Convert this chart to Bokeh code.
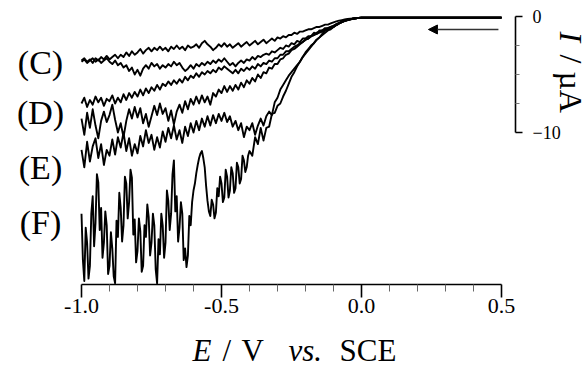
import math
from bokeh.plotting import figure
from bokeh.models import (Range1d, LinearAxis, FixedTicker, Label, Arrow,
                          NormalHead, NumeralTickFormatter)
from bokeh.embed import file_html
from bokeh.resources import INLINE

# ---- potential sweep (V vs. SCE) ----
E_SCAN = [
    -1.00, -0.99, -0.98, -0.97, -0.96, -0.95, -0.94, -0.93, -0.92, -0.91,
    -0.90, -0.89, -0.88, -0.87, -0.86, -0.85, -0.84, -0.83, -0.82, -0.81,
    -0.80, -0.79, -0.78, -0.77, -0.76, -0.75, -0.74, -0.73, -0.72, -0.71,
    -0.70, -0.69, -0.68, -0.67, -0.66, -0.65, -0.64, -0.63, -0.62, -0.61,
    -0.60, -0.59, -0.58, -0.57, -0.56, -0.55, -0.54, -0.53, -0.52, -0.51,
    -0.50, -0.49, -0.48, -0.47, -0.46, -0.45, -0.44, -0.43, -0.42, -0.41,
    -0.40, -0.39, -0.38, -0.37, -0.36, -0.35, -0.34, -0.33, -0.32, -0.31,
    -0.30, -0.29, -0.28, -0.27, -0.26, -0.25, -0.24, -0.23, -0.22, -0.21,
    -0.20, -0.19, -0.18, -0.17, -0.16, -0.15, -0.14, -0.13, -0.12, -0.11,
    -0.10,
]
E_TAIL = [-0.09, -0.08, -0.07, -0.06, -0.05, -0.04, -0.03, -0.02, -0.01,
          0.00, 0.10, 0.20, 0.30, 0.40, 0.50]
# the noisiest scan was sampled twice as densely up to -0.405 V
E_FINE = [
    -1.000, -0.995, -0.990, -0.985, -0.980, -0.975, -0.970, -0.965, -0.960, -0.955,
    -0.950, -0.945, -0.940, -0.935, -0.930, -0.925, -0.920, -0.915, -0.910, -0.905,
    -0.900, -0.895, -0.890, -0.885, -0.880, -0.875, -0.870, -0.865, -0.860, -0.855,
    -0.850, -0.845, -0.840, -0.835, -0.830, -0.825, -0.820, -0.815, -0.810, -0.805,
    -0.800, -0.795, -0.790, -0.785, -0.780, -0.775, -0.770, -0.765, -0.760, -0.755,
    -0.750, -0.745, -0.740, -0.735, -0.730, -0.725, -0.720, -0.715, -0.710, -0.705,
    -0.700, -0.695, -0.690, -0.685, -0.680, -0.675, -0.670, -0.665, -0.660, -0.655,
    -0.650, -0.645, -0.640, -0.635, -0.630, -0.625, -0.620, -0.615, -0.610, -0.605,
    -0.600, -0.595, -0.590, -0.585, -0.580, -0.575, -0.570, -0.565, -0.560, -0.555,
    -0.550, -0.545, -0.540, -0.535, -0.530, -0.525, -0.520, -0.515, -0.510, -0.505,
    -0.500, -0.495, -0.490, -0.485, -0.480, -0.475, -0.470, -0.465, -0.460, -0.455,
    -0.450, -0.445, -0.440, -0.435, -0.430, -0.425, -0.420, -0.415, -0.410, -0.405,
]

# ---- currents (uA), one list per scan, upper traces first ----
I_1 = [
    -3.8, -3.6, -3.9, -3.7, -4.0, -3.6, -3.8, -3.5, -3.7, -3.4,
    -3.7, -3.5, -3.3, -3.6, -3.3, -3.5, -3.1, -3.4, -3.0, -3.3,
    -3.1, -2.8, -3.2, -2.9, -2.7, -3.0, -2.7, -2.9, -2.6, -2.9,
    -2.7, -3.0, -2.6, -2.8, -2.5, -2.8, -2.6, -2.9, -2.5, -2.7,
    -2.6, -2.4, -2.7, -2.3, -2.1, -2.4, -2.6, -2.9, -2.7, -2.4,
    -2.6, -2.3, -2.6, -2.4, -2.7, -2.5, -2.3, -2.6, -2.4, -2.2,
    -2.5, -2.3, -2.1, -2.4, -2.2, -2.0, -2.3, -2.1, -1.9, -2.1,
    -1.8, -1.9, -1.7, -1.8, -1.6, -1.6, -1.4, -1.5, -1.3, -1.3,
    -1.2, -1.1, -1.1, -1.0, -0.9, -0.9, -0.8, -0.7, -0.7, -0.6,
    -0.5,
]
I_1_TAIL = [-0.42, -0.36, -0.31, -0.26, -0.22, -0.19, -0.16, -0.14, -0.12,
            -0.10, -0.10, -0.10, -0.10, -0.10, -0.10]

I_2 = [
    -3.9, -3.7, -4.0, -3.8, -3.6, -3.9, -3.7, -4.0, -3.8, -3.6,
    -3.9, -4.1, -3.8, -4.2, -4.0, -4.4, -4.2, -4.7, -4.4, -5.0,
    -4.6, -5.1, -4.5, -4.2, -4.5, -4.0, -4.3, -4.1, -4.5, -4.2,
    -4.4, -4.1, -4.3, -3.9, -4.2, -4.0, -4.4, -4.7, -4.5, -4.2,
    -4.5, -4.1, -4.3, -4.0, -4.2, -3.9, -4.1, -3.8, -4.0, -3.7,
    -3.9, -3.6, -3.9, -4.2, -4.0, -4.3, -4.0, -3.8, -4.0, -3.7,
    -3.8, -3.5, -3.7, -3.4, -3.5, -3.3, -3.2, -3.3, -3.0, -3.1,
    -2.9, -2.7, -2.8, -2.5, -2.6, -2.3, -2.4, -2.1, -2.2, -1.9,
    -1.9, -1.7, -1.7, -1.4, -1.5, -1.2, -1.2, -1.0, -1.0, -0.9,
    -0.8,
]
I_2_TAIL = [-0.66, -0.54, -0.44, -0.36, -0.29, -0.23, -0.18, -0.15, -0.12,
            -0.10, -0.10, -0.10, -0.10, -0.10, -0.10]

I_3 = [
    -7.5, -7.0, -7.8, -7.2, -7.6, -6.9, -7.4, -7.0, -7.7, -7.1,
    -7.3, -6.8, -7.5, -7.0, -7.4, -6.7, -7.2, -6.6, -7.0, -6.5,
    -6.9, -6.3, -6.8, -6.2, -6.6, -6.1, -6.4, -5.9, -6.3, -5.8,
    -6.0, -5.6, -5.9, -5.5, -5.8, -5.4, -5.7, -5.2, -5.5, -5.1,
    -5.3, -4.9, -5.2, -4.8, -5.0, -4.7, -4.9, -4.6, -4.8, -4.4,
    -4.6, -4.3, -4.5, -4.7, -4.9, -4.6, -4.9, -4.5, -4.7, -4.4,
    -4.6, -4.3, -4.5, -4.1, -4.3, -4.0, -4.1, -3.8, -3.9, -3.6,
    -3.6, -3.3, -3.3, -3.0, -3.0, -2.8, -2.6, -2.5, -2.3, -2.2,
    -2.0, -1.9, -1.7, -1.6, -1.4, -1.3, -1.2, -1.1, -1.0, -0.9,
    -0.8,
]
I_3_TAIL = [-0.68, -0.56, -0.45, -0.37, -0.30, -0.24, -0.19, -0.15, -0.12,
            -0.10, -0.10, -0.10, -0.10, -0.10, -0.10]

I_4 = [
    -8.8, -10.2, -8.3, -9.6, -8.0, -9.4, -10.5, -9.0, -8.2, -9.1,
    -8.5, -7.6, -8.9, -10.0, -9.2, -10.4, -9.0, -8.0, -8.8, -7.8,
    -8.7, -7.9, -9.2, -8.4, -9.5, -8.6, -7.7, -8.5, -7.5, -8.4,
    -7.9, -9.0, -8.1, -9.3, -8.2, -7.6, -8.3, -7.3, -8.0, -7.1,
    -7.6, -6.9, -7.5, -6.8, -7.4, -6.9, -7.6, -6.6, -6.9, -6.3,
    -6.6, -6.0, -6.5, -6.0, -6.4, -5.9, -6.3, -5.7, -6.1, -5.5,
    -5.8, -5.3, -5.6, -5.0, -5.3, -4.8, -4.9, -4.4, -4.5, -4.1,
    -4.1, -3.7, -3.6, -3.3, -3.2, -2.9, -2.8, -2.6, -2.4, -2.2,
    -2.0, -1.9, -1.7, -1.6, -1.5, -1.4, -1.3, -1.2, -1.1, -1.0,
    -0.9,
]
I_4_TAIL = [-0.74, -0.60, -0.48, -0.38, -0.30, -0.24, -0.19, -0.15, -0.12,
            -0.10, -0.10, -0.10, -0.10, -0.10, -0.10]

I_5 = [
    -11.5, -13.0, -10.8, -12.5, -11.2, -10.5, -12.2, -11.0, -12.8, -11.5,
    -12.0, -10.6, -11.9, -10.4, -11.3, -10.0, -11.6, -10.5, -12.0, -11.0,
    -11.8, -10.3, -11.2, -9.8, -10.9, -10.2, -11.5, -10.4, -11.3, -9.9,
    -10.8, -9.6, -10.5, -9.4, -10.6, -9.8, -10.9, -9.5, -10.3, -9.2,
    -10.0, -9.0, -9.8, -8.8, -9.5, -8.6, -9.4, -8.5, -9.2, -8.4,
    -9.0, -8.3, -9.1, -8.6, -9.5, -9.0, -9.8, -9.2, -10.4, -9.5,
    -9.8, -9.2, -10.2, -9.4, -8.8, -9.4, -8.6, -8.2, -8.5, -7.4,
    -7.0, -6.3, -5.9, -5.5, -5.1, -4.8, -4.5, -4.2, -3.9, -3.5,
    -3.2, -2.9, -2.6, -2.3, -2.0, -1.8, -1.6, -1.4, -1.2, -1.1,
    -0.9,
]
I_5_TAIL = [-0.74, -0.60, -0.48, -0.38, -0.30, -0.24, -0.19, -0.15, -0.12,
            -0.10, -0.10, -0.10, -0.10, -0.10, -0.10]

I_6_FINE = [
    -17.0, -21.0, -22.8, -18.2, -19.5, -22.6, -21.5, -17.0, -15.5, -19.8,
    -17.8, -13.6, -14.3, -18.4, -16.5, -20.8, -19.5, -16.8, -18.0, -22.2,
    -21.5, -18.6, -20.0, -22.4, -23.0, -17.6, -19.0, -15.2, -16.5, -19.4,
    -18.0, -13.8, -14.4, -17.4, -16.0, -13.2, -13.9, -18.8, -17.5, -21.2,
    -20.2, -17.4, -18.5, -22.0, -21.5, -18.0, -19.0, -16.2, -17.3, -20.6,
    -19.5, -17.0, -18.0, -21.8, -23.0, -19.2, -20.5, -17.0, -18.0, -20.8,
    -19.5, -15.0, -15.9, -18.4, -17.0, -13.6, -12.4, -16.8, -15.5, -19.4,
    -18.2, -16.0, -17.0, -21.0, -20.0, -21.6, -20.6, -17.2, -18.0, -16.0,
    -15.0, -14.4, -13.5, -12.8, -12.2, -11.8, -11.6, -12.2, -13.0, -14.6,
    -15.9, -16.8, -17.2, -15.8, -16.2, -17.4, -16.9, -14.8, -15.5, -13.8,
    -14.4, -16.0, -15.6, -13.2, -13.8, -15.6, -15.0, -13.0, -13.5, -15.2,
    -14.8, -12.6, -13.0, -14.4, -14.0, -12.0, -12.4, -13.4, -13.0, -12.0,
]
I_6 = [
    -11.6, -12.0, -10.4, -11.0, -9.6, -10.7, -9.6, -9.5, -8.4, -8.3,
    -7.7, -7.5, -6.9, -6.4, -5.8, -5.2, -4.8, -4.3, -3.9, -3.5,
    -3.1, -2.8, -2.5, -2.3, -2.0, -1.8, -1.5, -1.2, -1.1, -1.0,
    -0.9,
]
I_6_TAIL = [-0.74, -0.60, -0.48, -0.38, -0.30, -0.24, -0.19, -0.15, -0.12,
            -0.10, -0.10, -0.10, -0.10, -0.10, -0.10]

CURVE_LABELS = ["(C)", "(D)", "(E)", "(F)"]
X_TICKS = [-1.0, -0.5, 0.0, 0.5]
X_MINOR = [-0.9, -0.8, -0.7, -0.6, -0.4, -0.3, -0.2, -0.1, 0.1, 0.2, 0.3, 0.4]
SCALE_TICKS = [-10, 0]
SCALE_MINOR = [-7.5, -5.0, -2.5]

E_COARSE_FROM_040 = E_SCAN[E_SCAN.index(-0.40):]
SCANS = [
    (E_SCAN + E_TAIL, I_1 + I_1_TAIL),
    (E_SCAN + E_TAIL, I_2 + I_2_TAIL),
    (E_SCAN + E_TAIL, I_3 + I_3_TAIL),
    (E_SCAN + E_TAIL, I_4 + I_4_TAIL),
    (E_SCAN + E_TAIL, I_5 + I_5_TAIL),
    (E_FINE + E_COARSE_FROM_040 + E_TAIL, I_6_FINE + I_6 + I_6_TAIL),
]
for xs, ys in SCANS:
    assert len(xs) == len(ys), (len(xs), len(ys))

SERIF = "Liberation Serif"
W, H = 587, 369

# the frame spans the whole canvas (280 px per V, 11.6 px per uA);
# both axes sit at fixed data locations inside it
p = figure(width=W, height=H, output_backend="svg", toolbar_location=None,
           x_range=Range1d(-1.2893, 0.8071), y_range=Range1d(-30.431, 1.379),
           x_axis_location=None, y_axis_location=None, min_border=0)
p.outline_line_color = None
p.grid.visible = False

for xs, ys in SCANS:
    p.line(xs, ys, line_color="black", line_width=1.9, line_join="round")

# potential axis
xaxis = LinearAxis(bounds=(-1.0, 0.5), fixed_location=-23.10,
                   ticker=FixedTicker(ticks=X_TICKS, minor_ticks=X_MINOR),
                   formatter=NumeralTickFormatter(format="0.0"))
xaxis.axis_line_width = 1.6
xaxis.major_tick_line_width = 1.6
xaxis.major_tick_out = 13
xaxis.major_tick_in = 0
xaxis.minor_tick_out = 7
xaxis.minor_tick_in = 0
xaxis.minor_tick_line_color = "#666666"
xaxis.major_label_text_font = SERIF
xaxis.major_label_text_font_size = "22px"
xaxis.major_label_text_color = "black"
xaxis.major_label_standoff = 2
p.add_layout(xaxis, "below")

# current scale bar
yaxis = LinearAxis(bounds=(-10, 0), fixed_location=0.55,
                   ticker=FixedTicker(ticks=SCALE_TICKS, minor_ticks=SCALE_MINOR))
yaxis.axis_line_width = 1.6
yaxis.major_tick_line_width = 1.6
yaxis.major_tick_out = 7
yaxis.major_tick_in = 0
yaxis.minor_tick_out = 4
yaxis.minor_tick_in = 0
yaxis.minor_tick_line_color = "#777777"
yaxis.major_label_text_font = SERIF
yaxis.major_label_text_font_size = "18px"
yaxis.major_label_text_color = "black"
yaxis.major_label_standoff = 10
p.add_layout(yaxis, "right")


def put_text(text, px, py, size, style="normal", align="left",
             baseline="middle", angle=0.0):
    """Text placed by pixel position, origin at the canvas top-left."""
    p.add_layout(Label(x=px, y=H - py, x_units="screen", y_units="screen",
                       text=text, text_font=SERIF, text_font_size=size,
                       text_font_style=style, text_align=align,
                       text_baseline=baseline, angle=angle,
                       text_color="black"))


for txt, py in zip(CURVE_LABELS, [62, 112, 167, 222]):
    put_text(txt, 40, py, "34px", align="center")

# axis title: E / V vs. SCE
for txt, px, style in [("E", 192, "italic"), ("/", 222, "normal"),
                       ("V", 241, "normal"), ("vs.", 288, "italic"),
                       ("SCE", 339, "normal")]:
    put_text(txt, px, 350, "31px", style=style)

# scale-bar title: I / uA, reading downward
put_text("I", 570, 31, "32px", style="italic", angle=-math.pi / 2)
put_text("/ µA", 570, 54, "32px", angle=-math.pi / 2)

# sweep direction
p.add_layout(Arrow(end=NormalHead(size=9, fill_color="black", line_color="black"),
                   x_start=0.489, y_start=-1.12, x_end=0.239, y_end=-1.12,
                   line_color="#333333", line_width=1.3))

open("out.html", "w").write(file_html(p, INLINE))
